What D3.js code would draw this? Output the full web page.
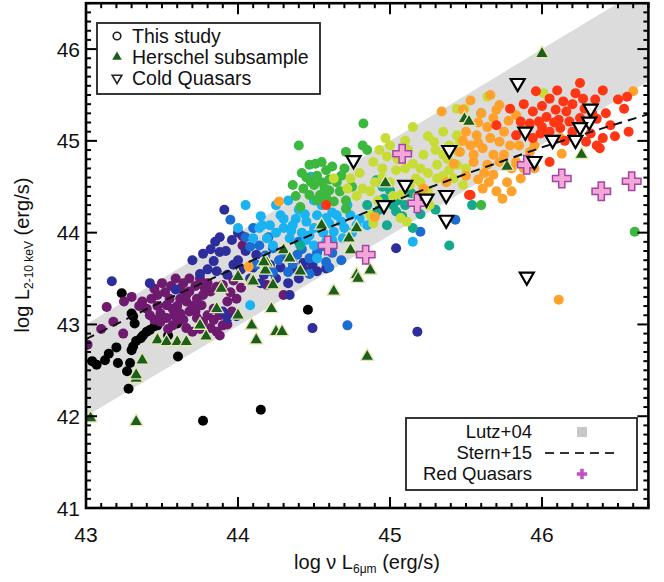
<!DOCTYPE html>
<html><head><meta charset="utf-8">
<script src="https://cdn.jsdelivr.net/npm/d3@7"></script>
<style>body{margin:0;background:#fff}svg{display:block;font-family:"Liberation Sans",Arial,sans-serif}</style>
</head><body><svg id="c" width="664" height="582"></svg>
<script>
// ---- data (log values) ----
const xTicks = [43, 44, 45, 46];
const yTicks = [41, 42, 43, 44, 45, 46];
const lutzBandLow = [[43, 42.0], [46.7, 45.65]];
const lutzBandHigh = [[43, 43.0], [46.7, 46.7]];
const sternLine = [[43,42.84],[43.5,43.25],[44,43.63],[44.5,43.99],[45,44.33],[45.5,44.64],[46,44.93],[46.5,45.19],[46.7,45.29]];

const ptsBlack = [[43.04,42.60],[43.07,42.56],[43.125,42.61],[43.21,42.58],[43.235,43.34],[43.30,43.12],[43.31,43.09],[43.32,43.01],[43.30,42.72],[43.31,42.76],[43.33,42.82],[43.36,42.85],[43.375,42.88],[43.40,42.92],[43.42,42.94],[43.45,42.98],[43.47,42.99],[43.54,42.88],[43.60,43.01],[43.605,42.65],[43.29,42.58],[43.27,42.49],[43.28,42.30],[43.77,41.95],[44.15,42.07],[44.46,43.16],[43.2,42.75],[43.15,42.68]];
const ptsPurple = [[43.136,43.19],[43.18,43.03],[43.245,42.90],[43.01,42.78],[43.43,43.28],[43.47,43.32],[43.45,43.39],[43.59,43.50],[43.68,43.50],[43.75,43.50],[43.62,43.39],[43.62,43.28],[43.66,43.25],[43.73,43.28],[43.77,43.32],[43.82,43.36],[43.86,43.41],[43.90,43.43],[43.97,43.48],[44.03,43.96],[44.03,43.86],[43.84,43.17],[43.88,43.10],[43.90,42.99],[43.86,42.92],[43.88,42.88],[43.82,42.96],[43.77,43.03],[43.73,43.07],[43.68,43.14],[43.62,43.12],[43.57,43.17],[43.53,43.21],[43.49,43.12],[43.49,43.03],[43.53,43.07],[43.57,42.99],[43.66,42.96],[43.70,42.92],[43.64,43.05],[43.40,43.17],[43.37,43.25],[43.55,43.28],[43.68,43.36],[43.76,43.21],[43.93,43.25],[43.99,43.28],[43.96,43.14],[44.19,43.43],[44.30,43.32],[43.50,43.45],[43.80,43.45],[43.70,43.20],[43.58,43.10],[43.45,43.05],
  [43.30,43.30],[43.35,43.20],[43.42,43.10],[43.47,43.20],[43.52,43.35],[43.56,43.42],[43.64,43.45],[43.72,43.42],[43.78,43.40],[43.60,43.20],[43.66,43.32],[43.72,43.14],[43.80,43.10],[43.84,43.05],[43.93,43.00],[43.60,43.05],[43.54,42.95],[43.75,42.95],[43.95,43.35],[44.02,43.40],[43.25,43.25],[43.10,42.95]];
const ptsDarkBlue = [[43.17,43.47],[43.42,43.45],[43.59,43.38],[43.70,43.70],[43.77,43.77],[43.85,43.90],[43.88,43.79],[43.84,43.69],[43.86,43.58],[43.93,43.54],[43.97,43.65],[43.96,43.92],[43.90,43.14],[43.93,43.07],[43.99,43.09],[44.12,43.76],[44.21,43.65],[44.17,43.54],[44.30,43.72],[44.36,43.61],[44.43,43.67],[44.49,43.65],[44.52,43.58],[44.58,43.61],[45.04,43.83],[44.49,42.96],[45.18,42.92],[44.34,43.32],[43.91,44.25],[44.02,43.60],[44.08,43.50],[44.25,43.50],[44.40,43.50],[43.80,43.60],[44.05,43.80],
  [43.75,43.55],[43.92,43.80],[44.00,43.70],[44.10,43.62],[44.15,43.45],[44.28,43.62],[44.33,43.45],[44.45,43.58],[43.88,43.95],[44.00,44.00],[43.82,43.82]];
const ptsMidBlue = [[43.95,44.14],[44.14,43.86],[44.23,43.83],[44.30,43.79],[44.39,43.76],[44.47,43.72],[44.58,43.68],[44.12,43.65],[44.23,43.57],[44.33,43.57],[44.47,43.55],[45.20,44.01],[44.72,42.99],[45.43,44.14],[44.05,43.95],[44.10,44.05],[44.20,43.95],[44.40,43.90],[44.55,43.85],[44.62,43.78],
  [44.27,43.70],[44.36,43.66],[44.42,43.82],[44.52,43.78],[44.18,43.75],[44.08,43.85],[44.60,43.62],[44.68,43.70]];
const ptsLightBlue = [[44.05,44.30],[44.48,44.61],[44.28,44.19],[44.21,44.08],[44.14,44.05],[44.30,44.05],[44.36,44.08],[44.45,44.12],[44.52,44.19],[44.58,44.16],[44.65,44.19],[44.74,44.19],[44.78,44.08],[44.10,43.94],[44.19,43.94],[44.34,43.94],[44.47,43.97],[44.63,44.01],[44.69,43.94],[44.85,44.08],[45.15,43.90],[44.50,43.86],[44.58,43.90],[44.52,43.72],[44.08,43.21],[44.40,44.25],[44.55,44.30],[44.25,44.30],[44.70,44.05],[44.00,44.05],[44.60,44.10],[44.42,44.00],[44.16,44.08],[44.23,43.86],
  [44.30,44.15],[44.38,44.15],[44.44,44.20],[44.50,44.05],[44.56,44.00],[44.62,44.22],[44.68,44.12],[44.75,44.00],[44.80,44.15],[44.35,44.02],[44.25,44.00],[44.15,44.18],[44.45,43.92],[44.62,43.92],[44.72,44.30],[44.50,44.35],[44.33,44.35]];
const ptsTeal = [[44.91,44.57],[45.0,44.46],[44.96,44.37],[45.02,44.30],[45.04,44.23],[44.98,44.08],[45.39,43.86],[44.41,43.86],[45.14,44.43],[45.54,44.30],[44.90,44.20],[45.10,44.30],[45.30,44.25],
  [44.95,44.50],[45.05,44.35],[45.08,44.18],[44.93,44.25],[45.20,44.20],[45.15,44.05],[44.85,44.30]];
const ptsGreen = [[44.825,45.19],[44.40,44.95],[44.71,44.88],[44.82,44.95],[44.85,44.90],[44.47,44.74],[44.51,44.75],[44.55,44.77],[44.58,44.68],[44.50,44.52],[44.47,44.41],[44.54,44.41],[44.60,44.46],[44.67,44.45],[44.63,44.34],[44.71,44.35],[44.41,44.28],[44.71,44.26],[44.43,44.48],[45.60,45.30],[45.60,44.30],[46.61,44.01],[44.55,44.55],[44.65,44.55],[44.45,44.60],[44.38,44.40],
  [44.52,44.62],[44.60,44.58],[44.68,44.62],[44.75,44.50],[44.57,44.48],[44.48,44.55],[44.42,44.65],[44.62,44.72],[44.70,44.70],[44.52,44.35],[44.58,44.38],[44.36,44.52]];
const ptsYellow = [[44.97,45.03],[45.15,45.15],[44.89,44.77],[44.98,44.83],[45.04,44.68],[44.82,44.48],[44.87,44.45],[45.22,44.85],[45.31,44.74],[45.31,44.59],[45.39,44.68],[45.44,44.74],[45.46,44.99],[45.39,44.95],[45.29,44.99],[45.13,44.52],[45.17,44.59],[45.07,44.41],[45.07,44.16],[45.11,44.12],[44.89,44.10],[44.87,44.19],[45.26,44.30],[45.49,45.35],[44.74,44.59],[44.63,44.59],[45.44,45.35],[45.64,45.48],[46.01,45.52],[45.44,45.06],[45.42,44.59],[45.48,44.52],[44.95,44.60],[45.20,44.70],[45.35,44.85],[45.25,44.45],[44.80,44.65],[45.0,44.95],[45.12,44.90],
  [44.90,44.55],[44.95,44.70],[45.00,44.55],[45.05,44.80],[45.10,44.70],[45.15,44.75],[45.20,44.55],[45.25,44.65],[45.30,44.90],[45.35,44.62],[45.38,44.80],[45.45,44.88],[45.50,44.70],[45.18,44.40],[45.02,44.40],[44.92,44.35],[44.78,44.40],[44.72,44.48],[45.25,45.05],[45.35,45.10],[45.10,45.00],[44.93,44.90]];
const ptsOrange = [[44.27,44.34],[44.90,44.17],[45.34,45.32],[45.22,44.48],[45.37,44.55],[46.60,45.54],[45.53,45.44],[45.66,45.50],[45.72,45.39],[45.48,45.34],[45.70,45.34],[45.64,45.15],[45.57,45.06],[45.66,45.03],[45.72,44.99],[45.79,44.95],[45.61,44.92],[45.53,44.95],[45.46,44.88],[45.55,44.77],[45.64,44.74],[45.72,44.77],[45.83,44.77],[45.68,44.63],[45.77,44.55],[45.86,44.59],[45.61,44.48],[45.74,44.37],[45.92,44.88],[46.12,45.03],[45.83,45.28],[46.13,44.86],[44.07,43.63],[46.11,43.27],[45.58,45.20],[45.75,45.10],[45.50,45.10],
  [45.50,44.62],[45.58,44.58],[45.62,44.65],[45.68,44.85],[45.75,44.85],[45.80,44.70],[45.85,44.95],[45.88,45.15],[45.60,45.30],[45.68,45.25],[45.78,45.22],[45.55,44.85],[45.65,44.55],[45.70,44.45],[45.80,44.45],[45.88,44.70],[45.95,44.95],[45.42,44.75],[45.48,45.00],[45.58,44.98],[45.95,44.70]];
const ptsRed = [[45.96,45.54],[46.25,45.63],[46.22,45.52],[46.05,45.46],[46.14,45.43],[46.27,45.46],[46.09,45.34],[46.16,45.32],[46.03,45.26],[45.98,45.21],[45.92,45.19],[45.86,45.21],[45.70,45.17],[46.11,45.23],[46.18,45.21],[46.12,45.14],[46.05,45.10],[45.99,45.08],[45.94,45.03],[46.36,45.24],[46.40,45.03],[46.36,44.95],[46.29,44.99],[46.38,44.92],[46.54,45.35],[46.56,45.48],[46.57,45.10],[46.45,45.17],[46.05,44.77],[45.53,44.41],[45.83,45.06],[45.79,45.35],[44.58,44.30],[45.52,44.41],[46.20,45.40],[46.33,45.30],
  [45.88,45.40],[45.94,45.32],[46.00,45.38],[46.08,45.20],[46.20,45.10],[46.25,45.25],[46.28,45.35],[46.35,45.45],[46.42,45.30],[46.48,45.05],[46.32,45.08],[46.15,45.00],[46.00,45.15],[46.10,45.55],[46.40,45.55],[46.50,45.45]];
const herschel = [[43.03,41.98],[43.33,41.94],[43.33,42.41],[43.37,42.61],[43.33,42.45],[43.47,42.83],[43.53,42.81],[43.60,42.81],[43.66,42.81],[43.75,42.99],[43.79,42.87],[43.89,43.39],[43.86,43.17],[44.0,43.10],[44.09,42.99],[44.12,42.83],[44.0,43.52],[44.09,43.47],[44.19,43.67],[44.18,43.59],[44.22,43.17],[44.25,42.92],[44.97,44.54],[44.55,44.08],[44.78,44.05],[44.73,43.94],[44.74,43.81],[44.30,43.81],[44.34,43.72],[44.41,43.58],[44.17,43.68],[44.10,43.47],[44.23,43.43],[44.78,43.54],[44.87,43.59],[44.63,43.36],[45.49,45.24],[46.0,45.95],[45.52,45.21],[45.77,44.72],[46.26,44.85],[44.85,42.65],[44.29,42.92],[44.79,43.50]];
const coldQuasars = [[44.76,44.79],[45.10,44.52],[44.96,44.30],[45.24,44.37],[45.37,44.41],[45.39,44.90],[45.37,44.14],[45.84,45.63],[46.32,45.35],[46.31,45.21],[46.25,45.15],[46.22,45.01],[46.07,45.01],[45.89,45.10],[45.95,44.78],[45.90,43.52]];
const redQuasars = [[45.08,44.86],[45.18,44.32],[44.59,43.86],[44.84,43.76],[45.90,44.74],[46.13,44.59],[46.39,44.45],[46.59,44.56]];

const groups = [
  {pts: ptsBlack, color: "#000000"},
  {pts: ptsPurple, color: "#6e1a6e"},
  {pts: ptsDarkBlue, color: "#2d2d9c"},
  {pts: ptsMidBlue, color: "#1c6dd2"},
  {pts: ptsLightBlue, color: "#1ab2f0"},
  {pts: ptsTeal, color: "#14a88c"},
  {pts: ptsGreen, color: "#3cb83e"},
  {pts: ptsYellow, color: "#c8dc38"},
  {pts: ptsOrange, color: "#ffa22c"},
  {pts: ptsRed, color: "#ff3614"}
];

// ---- scales ----
const x = d3.scaleLinear().domain([43, 46.7]).range([86, 648.4]);
const y = d3.scaleLinear().domain([41, 46.5]).range([508, 3.2]);
const svg = d3.select("#c");
const L = x.range()[0], R = x.range()[1], B = y.range()[0], T = y.range()[1];

svg.append("defs").append("clipPath").attr("id","clip")
  .append("rect").attr("x",L).attr("y",T).attr("width",R-L).attr("height",B-T);
const plot = svg.append("g").attr("clip-path","url(#clip)");

// Lutz band
const band = lutzBandLow.concat(lutzBandHigh.slice().reverse());
plot.append("path").attr("d", d3.line().x(d=>x(d[0])).y(d=>y(d[1]))(band)+"Z")
  .attr("fill","#dcdcdc");

// dots
groups.forEach(g=>{
  plot.append("g").selectAll("circle").data(g.pts).join("circle")
    .attr("cx",d=>x(d[0])).attr("cy",d=>y(d[1])).attr("r",5).attr("fill",g.color);
});

// Herschel triangles
const triUp = d3.symbol().type(d3.symbolTriangle).size(78);
plot.append("g").selectAll("path").data(herschel).join("path")
  .attr("d",triUp).attr("transform",d=>`translate(${x(d[0])},${y(d[1])})`)
  .attr("fill","#1c5e1c").attr("stroke","#e6e6b4").attr("stroke-width",1.3);

// Stern line
plot.append("path").attr("d", d3.line().x(d=>x(d[0])).y(d=>y(d[1]))(sternLine))
  .attr("fill","none").attr("stroke","#111").attr("stroke-width",2).attr("stroke-dasharray","9,6");

// red quasars crosses
const cross = d3.symbol().type(d3.symbolCross).size(190);
plot.append("g").selectAll("path").data(redQuasars).join("path")
  .attr("d",cross).attr("transform",d=>`translate(${x(d[0])},${y(d[1])})`)
  .attr("fill","#f4a6d6").attr("stroke","#a444a8").attr("stroke-width",1.5);

// cold quasars
plot.append("g").selectAll("path").data(coldQuasars).join("path")
  .attr("d",d3.symbol().type(d3.symbolTriangle).size(85))
  .attr("transform",d=>`translate(${x(d[0])},${y(d[1])}) rotate(180)`)
  .attr("fill","#fff").attr("stroke","#000").attr("stroke-width",2.2);

// ---- axes (inward ticks on all four sides) ----
const xMinor = d3.range(43, 46.71, 0.1);
const yMinor = d3.range(41, 46.51, 0.1);
const ax = svg.append("g").attr("stroke","#000");
xMinor.forEach(v=>{
  const major = Math.abs(v-Math.round(v))<1e-6;
  const len = major?11:5;
  ax.append("line").attr("x1",x(v)).attr("x2",x(v)).attr("y1",B).attr("y2",B-len).attr("stroke-width",2);
  ax.append("line").attr("x1",x(v)).attr("x2",x(v)).attr("y1",T).attr("y2",T+len).attr("stroke-width",2);
});
yMinor.forEach(v=>{
  const major = Math.abs(v-Math.round(v))<1e-6;
  const len = major?11:5;
  ax.append("line").attr("y1",y(v)).attr("y2",y(v)).attr("x1",L).attr("x2",L+len).attr("stroke-width",2);
  ax.append("line").attr("y1",y(v)).attr("y2",y(v)).attr("x1",R).attr("x2",R-len).attr("stroke-width",2);
});
svg.append("rect").attr("x",L).attr("y",T).attr("width",R-L).attr("height",B-T)
  .attr("fill","none").attr("stroke","#000").attr("stroke-width",2.6);

svg.append("g").selectAll("text").data(xTicks).join("text")
  .attr("x",d=>x(d)).attr("y",B+34).attr("text-anchor","middle")
  .attr("font-size",21).attr("fill","#111").text(d=>d);
svg.append("g").selectAll("text").data(yTicks).join("text")
  .attr("x",L-6).attr("y",d=>y(d)+7.5).attr("text-anchor","end")
  .attr("font-size",21).attr("fill","#111").text(d=>d);

// axis titles
const xt = svg.append("text").attr("x",367).attr("y",569).attr("text-anchor","middle")
  .attr("font-size",20).attr("fill","#111");
xt.append("tspan").text("log ν L");
xt.append("tspan").attr("font-size",12).attr("dy",4).text("6μm");
xt.append("tspan").attr("dy",-4).text(" (erg/s)");

const yt = svg.append("text").attr("transform","translate(29,255) rotate(-90)")
  .attr("text-anchor","middle").attr("font-size",20).attr("fill","#111");
yt.append("tspan").text("log L");
yt.append("tspan").attr("font-size",12).attr("dy",4).text("2-10 keV");
yt.append("tspan").attr("dy",-4).text(" (erg/s)");

// ---- legend 1 ----
const lg1 = svg.append("g");
lg1.append("rect").attr("x",97).attr("y",23).attr("width",223).attr("height",71)
  .attr("fill","#fff").attr("stroke","#222").attr("stroke-width",1.8);
const leg1 = ["This study","Herschel subsample","Cold Quasars"];
const ly = [36, 57, 78];
lg1.append("circle").attr("cx",117).attr("cy",ly[0]).attr("r",3.8).attr("fill","none").attr("stroke","#222").attr("stroke-width",1.6);
lg1.append("path").attr("d",d3.symbol().type(d3.symbolTriangle).size(40)).attr("transform",`translate(117,${ly[1]})`).attr("fill","#1c5e1c");
lg1.append("path").attr("d",d3.symbol().type(d3.symbolTriangle).size(40)).attr("transform",`translate(117,${ly[2]}) rotate(180)`).attr("fill","#fff").attr("stroke","#222").attr("stroke-width",1.6);
lg1.selectAll("text").data(leg1).join("text").attr("x",132).attr("y",(d,i)=>ly[i]+7)
  .attr("font-size",19.5).attr("fill","#111").text(d=>d);

// ---- legend 2 ----
const lg2 = svg.append("g");
lg2.append("rect").attr("x",406).attr("y",418).attr("width",231).attr("height",72)
  .attr("fill","#fff").attr("stroke","#222").attr("stroke-width",1.8);
const leg2 = ["Lutz+04","Stern+15","Red Quasars"];
const l2y = [431.5, 452.5, 473.5];
lg2.selectAll("text").data(leg2).join("text").attr("x",532).attr("y",(d,i)=>l2y[i]+6.5)
  .attr("text-anchor","end").attr("font-size",18.5).attr("fill","#111").text(d=>d);
lg2.append("rect").attr("x",577).attr("y",427).attr("width",10).attr("height",10).attr("fill","#c8c8c8");
lg2.append("line").attr("x1",545).attr("x2",618).attr("y1",453).attr("y2",453)
  .attr("stroke","#333").attr("stroke-width",2).attr("stroke-dasharray","9,6");
lg2.append("path").attr("d",d3.symbol().type(d3.symbolCross).size(60)).attr("transform","translate(582,474)").attr("fill","#c050c4");
</script></body></html>
